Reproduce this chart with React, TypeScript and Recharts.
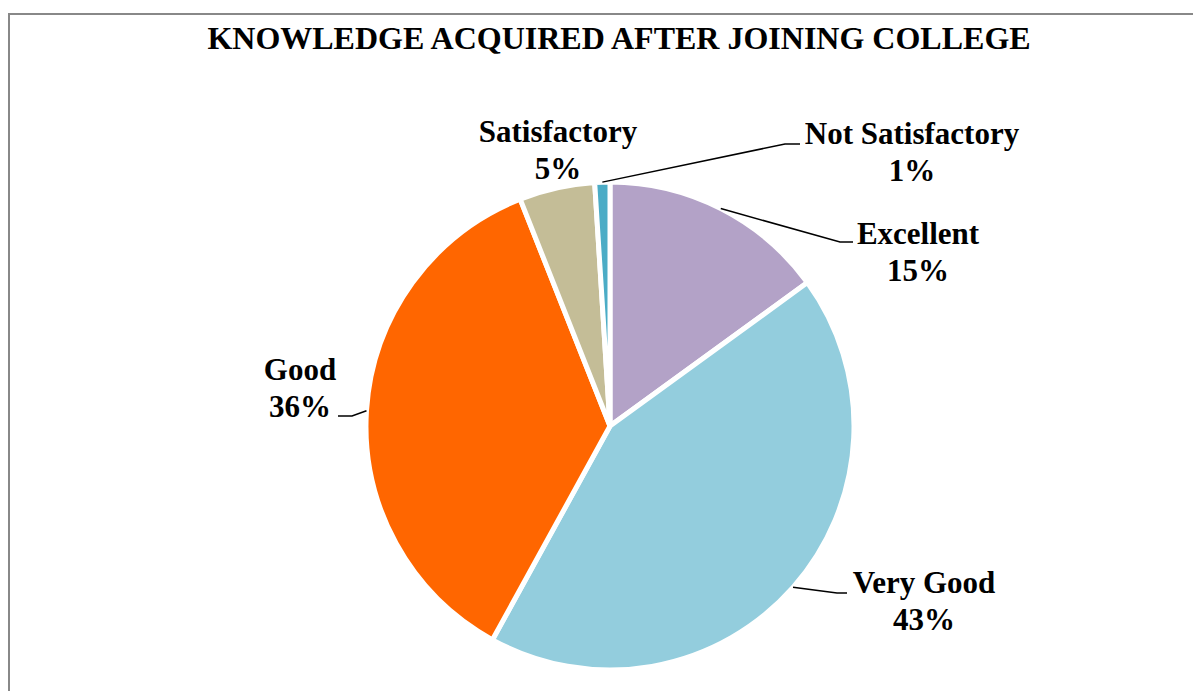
import { PieChart, Pie, Cell } from "recharts";

const CATEGORIES = ["Excellent", "Very Good", "Good", "Satisfactory", "Not Satisfactory"];
const SHARES = [15, 43, 36, 5, 1];
const COLORS = ["#B3A2C7", "#93CDDD", "#FF6600", "#C4BD97", "#4BACC6"];

// label placement relative to pie centre: elbow, line end, text centre (null = no leader line)
const LABEL_LAYOUT = [
  { elbow: [230, -184], end: [243, -184], text: [308, -193] },
  { elbow: [227, 167], end: [237, 167], text: [314, 156] },
  { elbow: [-258, -10], end: [-272, -10], text: [-310, -57] },
  { elbow: null, end: null, text: [-52, -295] },
  { elbow: [175, -282], end: [190, -282], text: [302, -293] },
];

const FONT = "'Liberation Serif', 'Times New Roman', serif";
const RAD = Math.PI / 180;

const data = CATEGORIES.map((name, i) => ({ name, value: SHARES[i] }));

function renderLabel(props: any) {
  const { cx, cy, midAngle, outerRadius, index, name, value } = props;
  const layout = LABEL_LAYOUT[index];
  const sx = cx + outerRadius * Math.cos(-midAngle * RAD);
  const sy = cy + outerRadius * Math.sin(-midAngle * RAD);
  const tx = cx + layout.text[0];
  const ty = cy + layout.text[1];
  return (
    <g key={`lbl-${index}`}>
      {layout.elbow && layout.end && (
        <polyline
          points={`${sx},${sy} ${cx + layout.elbow[0]},${cy + layout.elbow[1]} ${cx + layout.end[0]},${cy + layout.end[1]}`}
          fill="none"
          stroke="#000"
          strokeWidth={1.5}
        />
      )}
      <text x={tx} y={ty} textAnchor="middle" dominantBaseline="central" fontFamily={FONT} fontWeight="bold" fontSize={31} fill="#000">
        {name}
      </text>
      <text x={tx} y={ty + 37} textAnchor="middle" dominantBaseline="central" fontFamily={FONT} fontWeight="bold" fontSize={31} fill="#000">
        {`${value}%`}
      </text>
    </g>
  );
}

export default function App() {
  return (
    <div
      style={{
        position: "relative",
        marginTop: 5,
        width: 1193,
        height: 678,
        boxSizing: "border-box",
        borderTop: "2px solid #888",
        borderLeft: "2px solid #888",
        background: "#fff",
      }}
    >
      <div
        style={{
          position: "absolute",
          left: 109,
          top: 7,
          width: 1000,
          textAlign: "center",
          fontFamily: FONT,
          fontWeight: "bold",
          fontSize: 32,
          lineHeight: "32px",
          color: "#000",
        }}
      >
        KNOWLEDGE ACQUIRED AFTER JOINING COLLEGE
      </div>
      <PieChart width={1191} height={676} style={{ position: "absolute", left: 0, top: 0 }}>
        <Pie
          data={data}
          dataKey="value"
          nameKey="name"
          cx={595}
          cy={406}
          outerRadius={244}
          startAngle={90}
          endAngle={-270}
          stroke="#fff"
          strokeWidth={5}
          label={renderLabel}
          labelLine={false}
          isAnimationActive={false}
        >
          {data.map((d, i) => (
            <Cell key={d.name} fill={COLORS[i]} />
          ))}
        </Pie>
      </PieChart>
    </div>
  );
}
